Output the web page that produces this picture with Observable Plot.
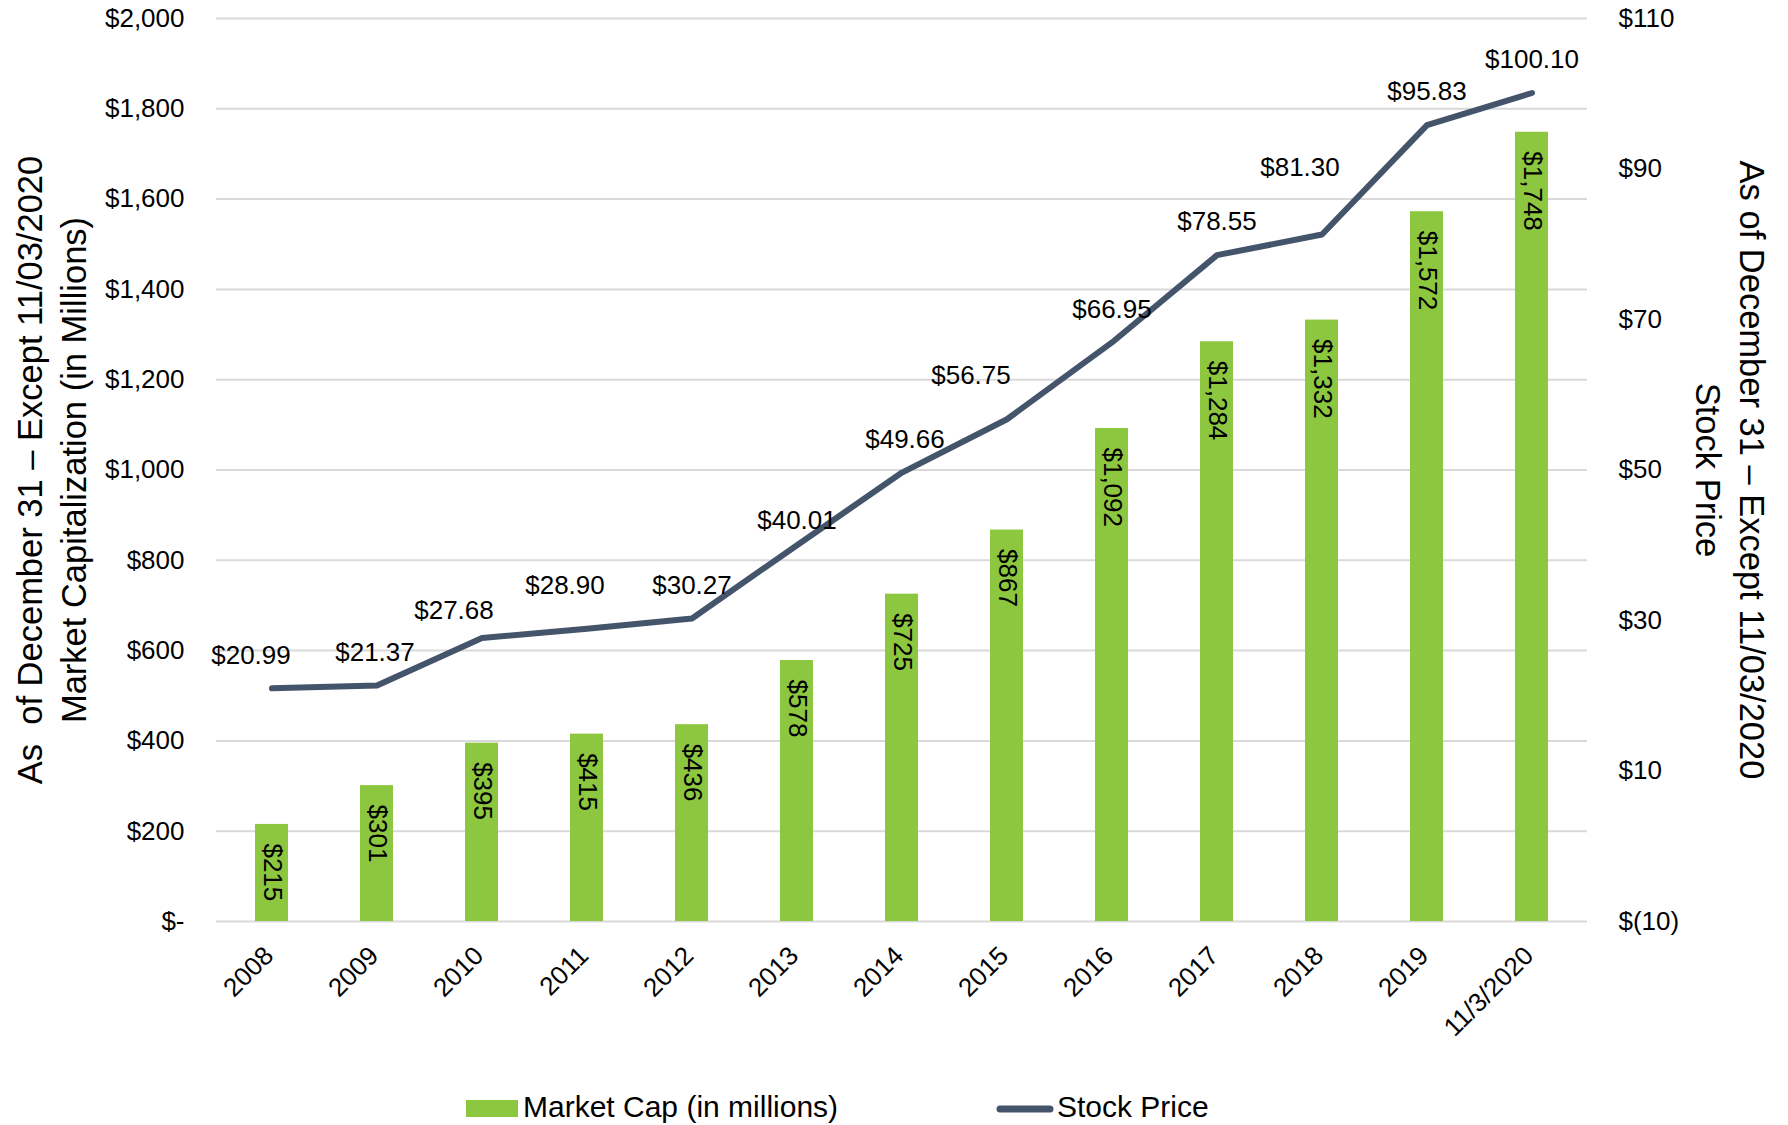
<!DOCTYPE html>
<html><head><meta charset="utf-8">
<script src="https://cdn.jsdelivr.net/npm/d3@7"></script>
<script src="https://cdn.jsdelivr.net/npm/@observablehq/plot@0.6"></script>
<style>
body{margin:0;background:#fff;}
#chart{width:1788px;height:1125px;position:relative;background:#fff;overflow:hidden;}
#legend{display:block;}
</style></head><body><div id="chart"></div>
<script>
const categories = ["2008","2009","2010","2011","2012","2013","2014","2015","2016","2017","2018","2019","11/3/2020"];
const marketCap = [215,301,395,415,436,578,725,867,1092,1284,1332,1572,1748];
const stockPrice = [20.99,21.37,27.68,28.90,30.27,40.01,49.66,56.75,66.95,78.55,81.30,95.83,100.10];
const capTicks = [0,200,400,600,800,1000,1200,1400,1600,1800,2000];
const priceTicks = [-10,10,30,50,70,90,110];
const leftTitle = "As\u00a0 of December 31 \u2013 Except 11/03/2020\nMarket Capitalization (in Millions)";
const rightTitle = "As of December 31 \u2013 Except 11/03/2020\nStock Price";
const seriesNames = ["Market Cap (in millions)", "Stock Price"];
// label nudges (px) for the stock price data labels, as placed in the original
const priceLabelNudge = [[-21,0],[-2,0],[-28,6],[-22,-10],[0,0],[0,8],[3,0],[-36,-11],[0,0],[0,0],[-22,-34],[0,0],[0,0]];

const GREEN = "#8DC63F", LINE = "#44546A", GRID = "#D9D9D9";
const FONT = "'Liberation Sans', Arial, sans-serif";
const priceMin = -10, priceMax = 110, capMax = 2000;
const toCap = p => (p - priceMin) / (priceMax - priceMin) * capMax;
const toPrice = c => Math.round(c / capMax * (priceMax - priceMin) + priceMin);
const fmtCap = v => v === 0 ? "$-" : "$" + d3.format(",")(v);
const fmtPrice = p => p < 0 ? `$(${-p})` : `$${p}`;

const data = categories.map((c, i) => ({cat: c, cap: marketCap[i], price: stockPrice[i]}));

const priceLabels = data.map((d, i) => Plot.text([d], {
  x: "cat", y: d => toCap(d.price), text: d => "$" + d.price.toFixed(2),
  dx: priceLabelNudge[i][0], dy: -33 + priceLabelNudge[i][1],
  fontSize: 26, fill: "#000", lineAnchor: "middle"
}));

const plot = Plot.plot({
  width: 1788, height: 1075,
  marginLeft: 216, marginRight: 201, marginTop: 18, marginBottom: 154,
  style: {fontFamily: FONT, fontSize: "26px", color: "#000", background: "#fff"},
  x: {domain: categories, paddingInner: 0.69, paddingOuter: 0.345},
  y: {domain: [0, capMax]},
  marks: [
    Plot.gridY(capTicks, {stroke: GRID, strokeOpacity: 1, strokeWidth: 2}),
    Plot.barY(data, {x: "cat", y: "cap", fill: GREEN}),
    Plot.line(data, {x: "cat", y: d => toCap(d.price), stroke: LINE, strokeWidth: 6, strokeLinecap: "round", strokeLinejoin: "round"}),
    Plot.text(data, {x: "cat", y: "cap", text: d => fmtCap(d.cap), rotate: 90, textAnchor: "start", lineAnchor: "middle", dy: 19, fontSize: 26, fill: "#000"}),
    ...priceLabels,
    Plot.axisY(capTicks, {anchor: "left", tickSize: 0, tickPadding: 32, tickFormat: fmtCap, fontSize: 26, label: null, fill: "#000"}),
    Plot.axisY(priceTicks.map(toCap), {anchor: "right", tickSize: 0, tickPadding: 31, tickFormat: d => fmtPrice(toPrice(d)), fontSize: 26, label: null, fill: "#000"}),
    Plot.axisX({tickRotate: -45, tickSize: 0, tickPadding: 30, dx: -3, fontSize: 26, label: null, fill: "#000"}),
    Plot.text([leftTitle], {frameAnchor: "left", rotate: -90, dx: -167, fontSize: 34.5, lineHeight: 1.28, lineAnchor: "middle", textAnchor: "middle", fill: "#000"}),
    Plot.text([rightTitle], {frameAnchor: "right", rotate: 90, dx: 145, fontSize: 34.5, lineHeight: 1.28, lineAnchor: "middle", textAnchor: "middle", fill: "#000"})
  ]
});
document.getElementById("chart").appendChild(plot);

// legend
const lg = d3.create("svg").attr("id", "legend").attr("width", 1788).attr("height", 50)
  .style("font-family", FONT);
lg.append("rect").attr("x", 466).attr("y", 25).attr("width", 52).attr("height", 17).attr("fill", GREEN);
lg.append("text").attr("x", 523).attr("y", 42).attr("font-size", 30).attr("fill", "#000").text(seriesNames[0]);
lg.append("line").attr("x1", 1000).attr("x2", 1050).attr("y1", 34).attr("y2", 34)
  .attr("stroke", LINE).attr("stroke-width", 7).attr("stroke-linecap", "round");
lg.append("text").attr("x", 1057).attr("y", 42).attr("font-size", 30).attr("fill", "#000").text(seriesNames[1]);
document.getElementById("chart").appendChild(lg.node());
</script></body></html>
